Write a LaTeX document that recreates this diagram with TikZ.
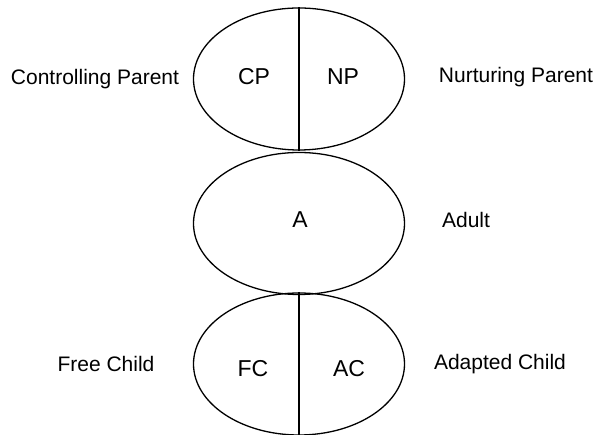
\documentclass[tikz,border=0pt]{standalone}
\usepackage{fontspec}
\setmainfont{Liberation Sans}
\usetikzlibrary{shapes.geometric}

\begin{document}
\begin{tikzpicture}[x=1pt,y=1pt]

\tikzstyle{state}=[ellipse,draw,line width=1.3pt,minimum width=211pt,minimum height=142pt,inner sep=0pt]
\tikzstyle{edge} = [draw,line width=1.3pt,-]
\tikzstyle{part} = [anchor=base,font=\fontsize{23}{27}\selectfont]
\tikzstyle{role} = [anchor=base,font=\fontsize{21}{25}\selectfont]

\useasboundingbox (0,0) rectangle (598,435);

\foreach \name/\y in {P/356, A/211.5, C/71}
{
  \node[state] (\name) at (299,\y) {};
}

\path[edge] (P.north) -- (P.south);
\path[edge] (C.north) -- (C.south);

\foreach \name/\x/\y/\txt in {cp/254/350/CP, np/343/350/NP, a/300/207/A, fc/253/58/FC, ac/349/58/AC}
{
  \node[part] (\name) at (\x,\y) {\txt};
}

\foreach \name/\x/\y/\txt in {cplabel/95/350/Controlling Parent, nplabel/516/352/Nurturing Parent, alabel/466/207.5/Adult, fclabel/106/63/Free Child, aclabel/500/65/Adapted Child}
{
  \node[role] (\name) at (\x,\y) {\txt};
}
\end{tikzpicture}
\end{document}
